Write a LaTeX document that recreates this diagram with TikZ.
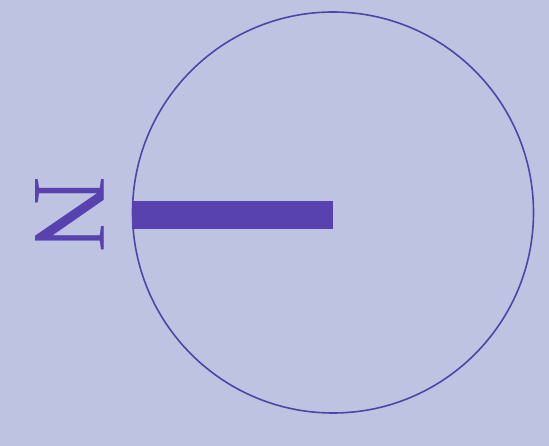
\documentclass[tikz,border=0pt]{standalone}
\usepackage{fontspec}
\setmainfont{Liberation Serif}
\definecolor{paper}{RGB}{190,195,225}
\definecolor{ink}{RGB}{88,66,175}
\definecolor{rimink}{RGB}{78,70,165}
\begin{document}
\begin{tikzpicture}[x=1pt,y=-1pt]
		% Background
		\fill[paper] (0,0) rectangle (549,446);
		\useasboundingbox (0,0) rectangle (549,446);

		% Circle and letter
		\node[draw=rimink, line width=1.6pt, circle, minimum size=401pt, inner sep=0pt] (rim) at (333,212.5) {};
		\node[text=ink, rotate=-90, inner sep=0pt, font=\fontsize{105}{105}\selectfont] (north) at (70,214) {N};

		% Bar
		\draw[ink, line width=28pt] ([yshift=-3pt]rim.west) -- ([yshift=-3pt]rim.center);
	\end{tikzpicture}
\end{document}
